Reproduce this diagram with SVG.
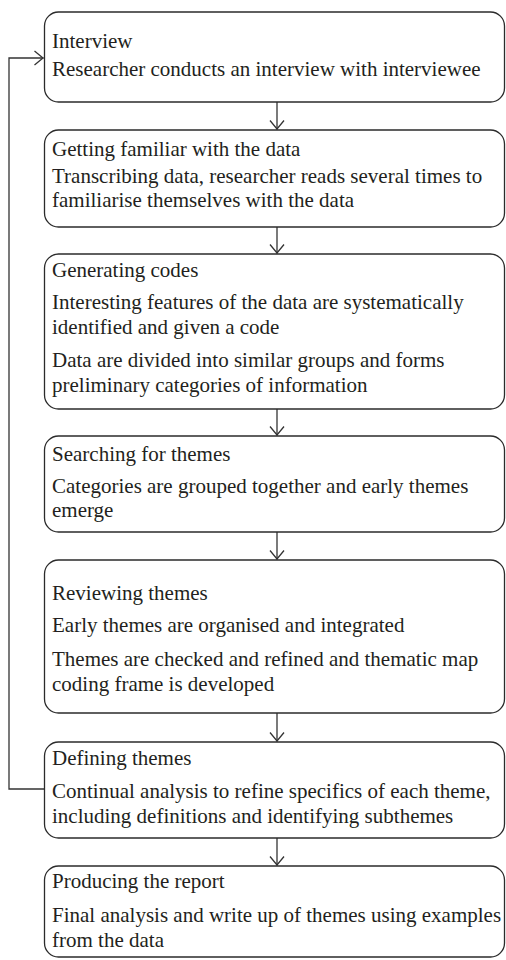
<svg xmlns="http://www.w3.org/2000/svg" width="506" height="960" viewBox="0 0 506 960">
<defs>
<style>
.box{fill:#fff;stroke:#2b2b2b;stroke-width:1.3}
.t{font-family:"Liberation Serif","Times New Roman",serif;font-size:21px;fill:#231f20}
.ln{fill:none;stroke:#333;stroke-width:1.3}
</style>
<marker id="ah" viewBox="0 0 10 16" refX="10" refY="8" markerWidth="10" markerHeight="16" markerUnits="userSpaceOnUse" orient="auto">
<path d="M1,1 L9.5,8 L1,15" fill="none" stroke="#333" stroke-width="1.3"/>
</marker>
</defs>
<rect width="506" height="960" fill="#fff"/>
<g id="connectors">
<line class="ln" x1="277" y1="102" x2="277" y2="129.5" marker-end="url(#ah)"/>
<line class="ln" x1="277" y1="227" x2="277" y2="253.5" marker-end="url(#ah)"/>
<line class="ln" x1="277" y1="409" x2="277" y2="435.5" marker-end="url(#ah)"/>
<line class="ln" x1="277" y1="532" x2="277" y2="559.5" marker-end="url(#ah)"/>
<line class="ln" x1="277" y1="713" x2="277" y2="741.5" marker-end="url(#ah)"/>
<line class="ln" x1="277" y1="838" x2="277" y2="865.5" marker-end="url(#ah)"/>
<polyline class="ln" points="44.5,789 9,789 9,58 43.5,58" marker-end="url(#ah)"/>
</g>
<g id="n1">
<rect class="box" x="44.5" y="12" width="460" height="90" rx="14"/>
<text class="t" x="52" y="48">Interview</text>
<text class="t" x="52" y="76">Researcher conducts an interview with interviewee</text>
</g>
<g id="n2">
<rect class="box" x="44.5" y="130" width="460" height="97" rx="14"/>
<text class="t" x="52" y="156">Getting familiar with the data</text>
<text class="t" x="52" y="183">Transcribing data, researcher reads several times to</text>
<text class="t" x="52" y="207">familiarise themselves with the data</text>
</g>
<g id="n3">
<rect class="box" x="44.5" y="254" width="460" height="155" rx="14"/>
<text class="t" x="52" y="277">Generating codes</text>
<text class="t" x="52" y="309">Interesting features of the data are systematically</text>
<text class="t" x="52" y="334">identified and given a code</text>
<text class="t" x="52" y="367">Data are divided into similar groups and forms</text>
<text class="t" x="52" y="392">preliminary categories of information</text>
</g>
<g id="n4">
<rect class="box" x="44.5" y="436" width="460" height="96" rx="14"/>
<text class="t" x="52" y="461">Searching for themes</text>
<text class="t" x="52" y="493">Categories are grouped together and early themes</text>
<text class="t" x="52" y="517">emerge</text>
</g>
<g id="n5">
<rect class="box" x="44.5" y="560" width="460" height="153" rx="14"/>
<text class="t" x="52" y="600">Reviewing themes</text>
<text class="t" x="52" y="632">Early themes are organised and integrated</text>
<text class="t" x="52" y="666">Themes are checked and refined and thematic map</text>
<text class="t" x="52" y="691">coding frame is developed</text>
</g>
<g id="n6">
<rect class="box" x="44.5" y="742" width="460" height="96" rx="14"/>
<text class="t" x="52" y="765">Defining themes</text>
<text class="t" x="52" y="798">Continual analysis to refine specifics of each theme,</text>
<text class="t" x="52" y="823">including definitions and identifying subthemes</text>
</g>
<g id="n7">
<rect class="box" x="44.5" y="866" width="460" height="91" rx="14"/>
<text class="t" x="52" y="888">Producing the report</text>
<text class="t" x="52" y="922">Final analysis and write up of themes using examples</text>
<text class="t" x="52" y="947">from the data</text>
</g>
</svg>
